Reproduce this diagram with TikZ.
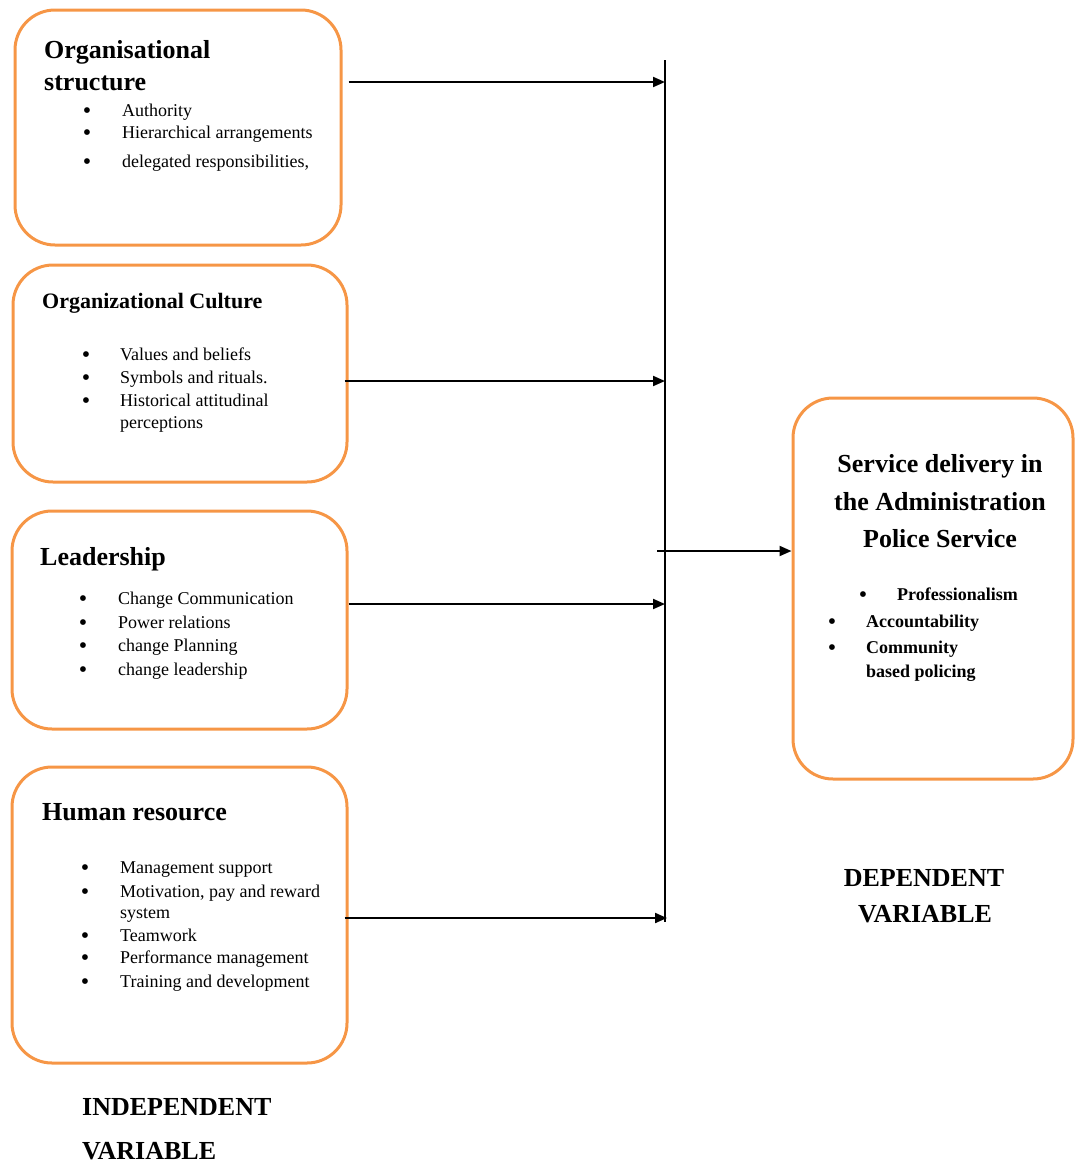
\documentclass[tikz,border=0pt]{standalone}
\usepackage{fontspec}
\setmainfont{Liberation Serif}
\usetikzlibrary{arrows.meta}
\definecolor{boxorange}{RGB}{246,150,70}
\tikzset{
  obox/.style={draw=boxorange, line width=3pt, rounded corners=40pt, fill=none, inner sep=0pt},
  ttl/.style={anchor=base west, inner sep=0pt, font=\bfseries\fontsize{26}{30}\selectfont},
  ttls/.style={anchor=base west, inner sep=0pt, font=\bfseries\fontsize{22}{26}\selectfont},
  ttlc/.style={anchor=base, inner sep=0pt, font=\bfseries\fontsize{26}{30}\selectfont},
  itm/.style={anchor=base west, inner sep=0pt, font=\fontsize{18}{22}\selectfont},
  itmb/.style={anchor=base west, inner sep=0pt, font=\bfseries\fontsize{18}{22}\selectfont},
  bul/.style={anchor=base, inner sep=0pt, font=\fontsize{24}{22}\selectfont},
  conn/.style={draw=black, line width=2pt},
  arr/.style={conn, -{Triangle[length=12pt,width=10pt]}}
}
\begin{document}
\begin{tikzpicture}[x=1pt,y=-1pt]
\useasboundingbox (0,0) rectangle (1076,1165);
% boxes
\node[obox, minimum width=326pt, minimum height=235pt] (box1) at (178,127.5) {};
\node[obox, minimum width=334pt, minimum height=217pt] (box2) at (180,373.5) {};
\node[obox, minimum width=335pt, minimum height=218pt] (box3) at (179.5,620) {};
\node[obox, minimum width=335pt, minimum height=296pt] (box4) at (179.5,915) {};
\node[obox, minimum width=280pt, minimum height=381pt] (box5) at (933,588.5) {};
% box1 text
\node[ttl] (t1a) at (44,58) {Organisational};
\node[ttl] (t1b) at (44,90) {structure};
\node[bul] (b11) at (87,118) {•};
\node[itm] (i11) at (122,116) {Authority};
\node[bul] (b12) at (87,140) {•};
\node[itm] (i12) at (122,138) {Hierarchical arrangements};
\node[bul] (b13) at (87,169) {•};
\node[itm] (i13) at (122,167) {delegated responsibilities,};
% box2 text
\node[ttls] (t2) at (42,308) {Organizational Culture};
\node[bul] (b21) at (86,362) {•};
\node[itm] (i21) at (120,360) {Values and beliefs};
\node[bul] (b22) at (86,385) {•};
\node[itm] (i22) at (120,383) {Symbols and rituals.};
\node[bul] (b23) at (86,408) {•};
\node[itm] (i23) at (120,406) {Historical attitudinal};
\node[itm] (i24) at (120,428) {perceptions};
% box3 text
\node[ttl] (t3) at (40,565) {Leadership};
\node[bul] (b31) at (83,606) {•};
\node[itm] (i31) at (118,604) {Change Communication};
\node[bul] (b32) at (83,630) {•};
\node[itm] (i32) at (118,628) {Power relations};
\node[bul] (b33) at (83,653) {•};
\node[itm] (i33) at (118,651) {change Planning};
\node[bul] (b34) at (83,677) {•};
\node[itm] (i34) at (118,675) {change leadership};
% box4 text
\node[ttl] (t4) at (42,820) {Human resource};
\node[bul] (b41) at (85,875) {•};
\node[itm] (i41) at (120,873) {Management support};
\node[bul] (b42) at (85,899) {•};
\node[itm] (i42) at (120,897) {Motivation, pay and reward};
\node[itm] (i43) at (120,918) {system};
\node[bul] (b44) at (85,943) {•};
\node[itm] (i44) at (120,941) {Teamwork};
\node[bul] (b45) at (85,965) {•};
\node[itm] (i45) at (120,963) {Performance management};
\node[bul] (b46) at (85,989) {•};
\node[itm] (i46) at (120,987) {Training and development};
% box5 text
\node[ttlc] (t5a) at (940,472) {Service delivery in};
\node[ttlc] (t5b) at (940,510) {the Administration};
\node[ttlc] (t5c) at (940,547) {Police Service};
\node[bul] (b51) at (863,602) {•};
\node[itmb] (i51) at (897,600) {Professionalism};
\node[bul] (b52) at (832,629) {•};
\node[itmb] (i52) at (866,627) {Accountability};
\node[bul] (b53) at (832,655) {•};
\node[itmb] (i53) at (866,653) {Community};
\node[itmb] (i54) at (866,677) {based policing};
% labels
\node[ttl] (lind1) at (82,1115) {INDEPENDENT};
\node[ttl] (lind2) at (82,1159) {VARIABLE};
\node[ttlc] (ldep1) at (924,886) {DEPENDENT};
\node[ttlc] (ldep2) at (925,922) {VARIABLE};
% bus
\coordinate (bustop) at (665,60);
\coordinate (busbot) at (665,922);
\draw[conn] (bustop) -- (busbot);
\coordinate (c1) at (665,82);
\coordinate (c2) at (665,381);
\coordinate (c3) at (665,604);
\coordinate (c4) at (667,918);
\draw[arr] ([xshift=6pt]box1.east |- c1) -- (c1);
\draw[arr] ([xshift=-4pt]box2.east |- c2) -- (c2);
\draw[arr] (box3.east |- c3) -- (c3);
\draw[arr] ([xshift=-4pt]box4.east |- c4) -- (c4);
\coordinate (c5) at (657,551);
\draw[arr] (c5) -- (c5 -| box5.west);
\end{tikzpicture}
\end{document}
